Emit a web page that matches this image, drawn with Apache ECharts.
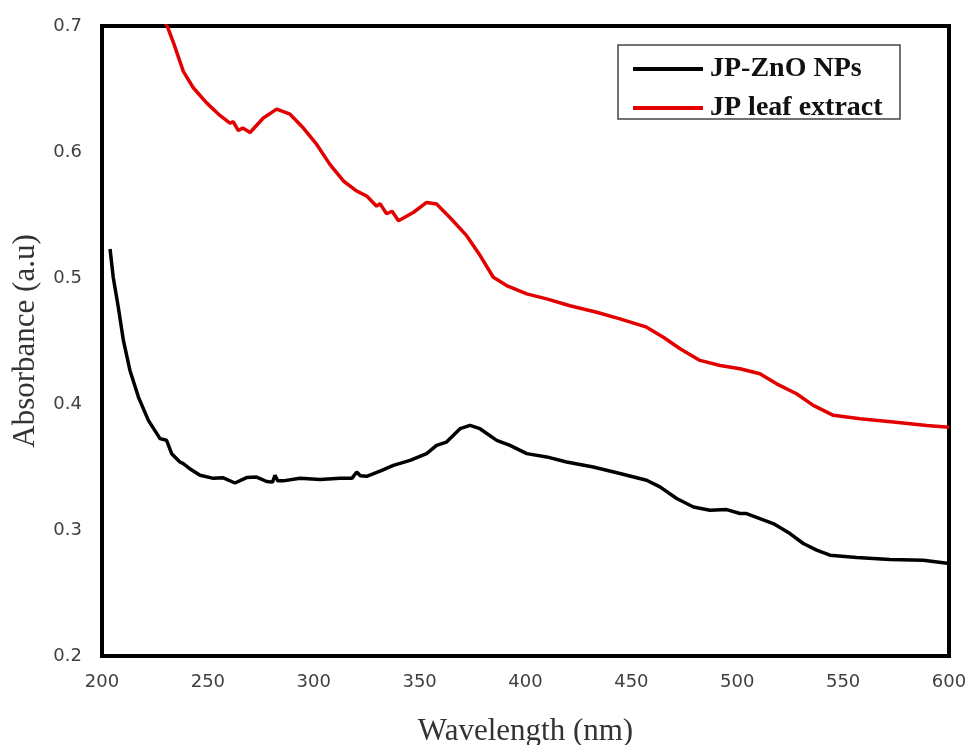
<!DOCTYPE html>
<html>
<head>
<meta charset="utf-8">
<script src="https://cdn.jsdelivr.net/npm/echarts@6/dist/echarts.min.js"></script>
<style>
html,body{margin:0;padding:0;background:#fff;}
#chart{width:967px;height:745px;}
</style>
</head>
<body>
<div id="chart"></div>
<script>
// Wavelength (nm) and absorbance readings for each series
const seriesNames = ['JP-ZnO NPs', 'JP leaf extract'];

const znoWavelength = [203.8,205.3,207.7,210.1,213.2,217.2,221.9,227.4,230.5,232.9,236.8,238.4,242,246.3,252.6,257,262.8,268.3,273,277.8,280.5,281.7,283,285.6,293.5,303,312.4,318,320.3,322,325,331.3,337.6,345.5,353.3,358,362.7,369.1,373.8,378.5,386.4,392.7,400.6,410,419.4,432,444.6,457.2,463.5,471.4,479.3,487.1,495,501.3,504.4,510.7,517,524.9,531.2,537.5,543.8,556.4,572.1,587.9,600];
const znoAbsorbance = [0.523,0.5006,0.4768,0.4504,0.4266,0.4055,0.387,0.3725,0.3712,0.3606,0.354,0.3527,0.348,0.3434,0.341,0.3415,0.3373,0.3416,0.342,0.3385,0.338,0.3434,0.339,0.339,0.341,0.340,0.341,0.341,0.346,0.343,0.3426,0.3468,0.3513,0.3553,0.3606,0.3672,0.3698,0.3804,0.383,0.3804,0.3711,0.3672,0.3606,0.358,0.354,0.350,0.3448,0.3395,0.3342,0.325,0.3183,0.3157,0.3162,0.3131,0.313,0.309,0.3051,0.2972,0.2893,0.284,0.280,0.2782,0.2766,0.276,0.2735];

const leafWavelength = [229,231,233.7,238.4,243.1,249.4,255.7,260.4,262,264.4,266.5,269.9,276.2,282.5,288.8,295.1,301.4,307.7,314,320.3,325,329.7,331.3,334.4,337,340,347,353.3,358,364.3,372.2,378.5,384.8,391.1,400.6,410,421,433.6,444.6,457.2,465.1,473,482.4,491.9,501.3,510.7,518.6,528,535.9,545.4,558,573.7,589.5,600];
const leafAbsorbance = [0.706,0.699,0.687,0.664,0.651,0.639,0.629,0.623,0.624,0.617,0.619,0.6155,0.627,0.634,0.630,0.619,0.606,0.590,0.577,0.569,0.565,0.557,0.559,0.551,0.553,0.5455,0.552,0.560,0.5587,0.548,0.5336,0.518,0.5006,0.494,0.4874,0.4834,0.478,0.4728,0.4676,0.461,0.453,0.4438,0.4346,0.4306,0.428,0.424,0.416,0.4081,0.3989,0.391,0.3883,0.3857,0.383,0.3815];

const xTicks = [200,250,300,350,400,450,500,550,600];
const yTicks = [0.2,0.3,0.4,0.5,0.6,0.7];

function pairs(xs, ys){ return xs.map((x,i)=>[x, ys[i]]); }

const chart = echarts.init(document.getElementById('chart'), null, {renderer:'canvas'});
const labelStyle = {color:'#404040', fontFamily:'DejaVu Sans', fontSize:18};
chart.setOption({
  animation:false,
  backgroundColor:'#fff',
  grid:{left:102, top:26, right:18, bottom:89, containLabel:false, outerBoundsMode:'none',
        show:true, borderColor:'#000', borderWidth:4, backgroundColor:'transparent'},
  xAxis:{
    type:'value', min:xTicks[0], max:xTicks[xTicks.length-1], interval:50,
    axisLine:{show:false}, axisTick:{show:false}, splitLine:{show:false},
    axisLabel:Object.assign({margin:17}, labelStyle),
    name:'Wavelength (nm)', nameLocation:'middle', nameGap:60,
    nameTextStyle:{fontFamily:'Liberation Serif', fontSize:31, color:'#333'}
  },
  yAxis:{
    type:'value', min:yTicks[0], max:yTicks[yTicks.length-1], interval:0.1,
    axisLine:{show:false}, axisTick:{show:false}, splitLine:{show:false},
    axisLabel:Object.assign({margin:20, formatter:v=>v.toFixed(1)}, labelStyle),
    name:'Absorbance (a.u)', nameLocation:'middle', nameGap:61, nameRotate:90,
    nameTextStyle:{fontFamily:'Liberation Serif', fontSize:31, color:'#333'}
  },
  legend:{
    orient:'vertical', left:628, top:50, itemWidth:70, itemHeight:4, itemGap:11,
    icon:'rect',
    textStyle:{fontFamily:'Liberation Serif', fontWeight:'bold', fontSize:28, color:'#111', padding:[0,0,0,2]},
    data:seriesNames
  },
  graphic:[{type:'rect', shape:{x:618, y:45, width:282, height:74}, style:{fill:'none', stroke:'#444', lineWidth:1.5}, z:0}],
  series:[
    {name:seriesNames[0], type:'line', data:pairs(znoWavelength, znoAbsorbance), symbol:'none', clip:true,
     lineStyle:{color:'#000', width:3.5}, itemStyle:{color:'#000'}},
    {name:seriesNames[1], type:'line', data:pairs(leafWavelength, leafAbsorbance), symbol:'none', clip:true,
     lineStyle:{color:'#e30000', width:3.5}, itemStyle:{color:'#e30000'}}
  ]
});
</script>
</body>
</html>
